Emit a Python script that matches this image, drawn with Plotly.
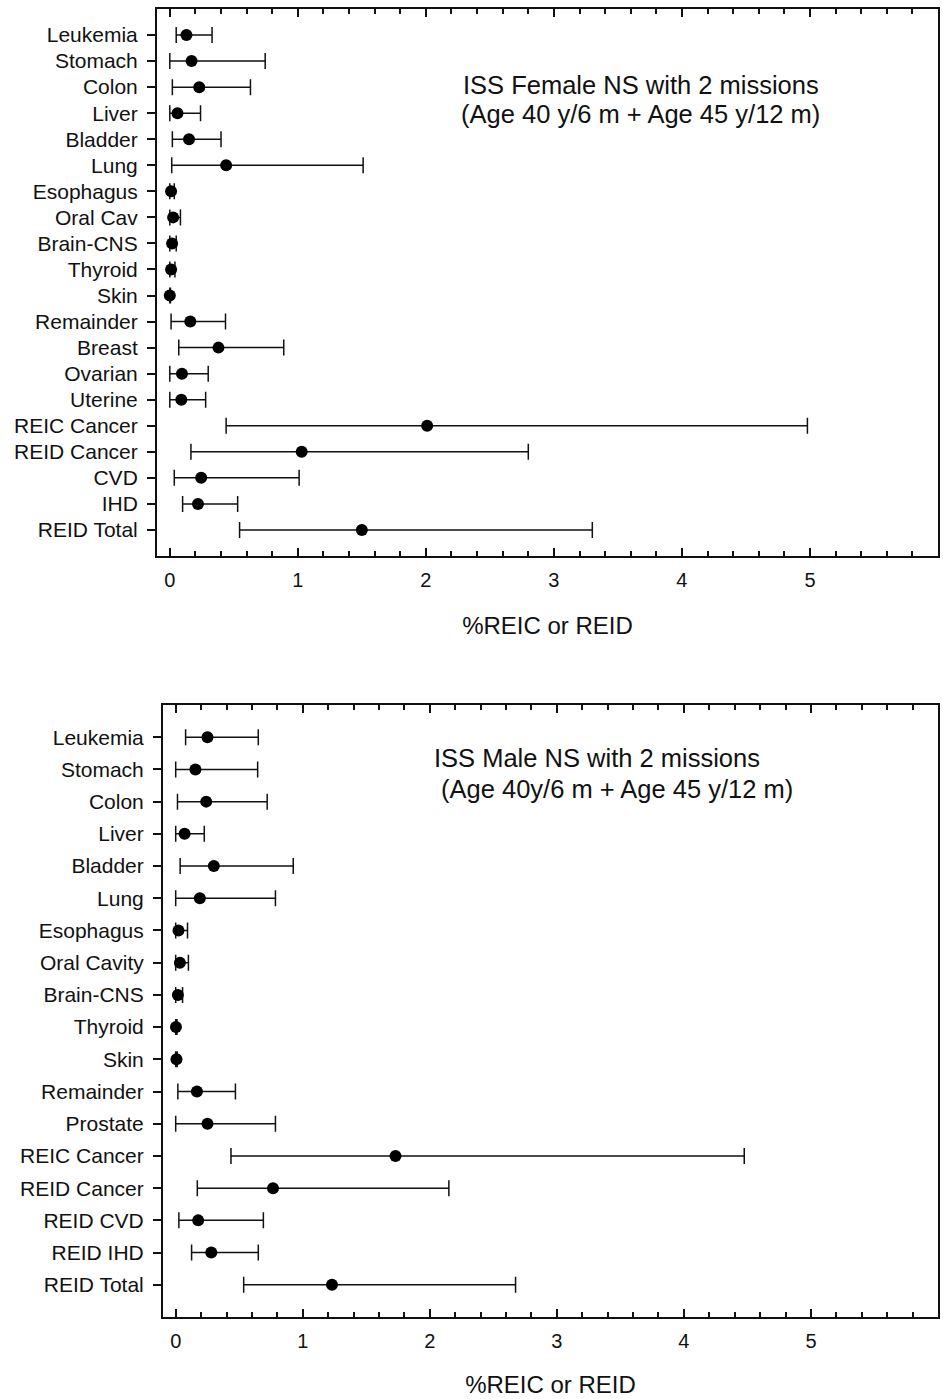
import plotly.graph_objects as go

# ---- Female NS, 2 missions ----
female_labels = ["Leukemia", "Stomach", "Colon", "Liver", "Bladder", "Lung",
                 "Esophagus", "Oral Cav", "Brain-CNS", "Thyroid", "Skin",
                 "Remainder", "Breast", "Ovarian", "Uterine", "REIC Cancer",
                 "REID Cancer", "CVD", "IHD", "REID Total"]
female_mean = [0.13, 0.17, 0.23, 0.06, 0.15, 0.44, 0.01, 0.026, 0.018, 0.01,
               0.0, 0.16, 0.38, 0.095, 0.09, 2.01, 1.03, 0.245, 0.22, 1.50]
female_low = [0.05, 0.0, 0.02, 0.0, 0.02, 0.015, 0.0, 0.0, 0.0, 0.0,
              0.0, 0.01, 0.07, 0.0, 0.0, 0.44, 0.165, 0.035, 0.10, 0.545]
female_high = [0.33, 0.745, 0.63, 0.24, 0.40, 1.51, 0.035, 0.083, 0.05, 0.04,
               0.005, 0.435, 0.89, 0.30, 0.28, 4.98, 2.80, 1.01, 0.53, 3.30]

# ---- Male NS, 2 missions ----
male_labels = ["Leukemia", "Stomach", "Colon", "Liver", "Bladder", "Lung",
               "Esophagus", "Oral Cavity", "Brain-CNS", "Thyroid", "Skin",
               "Remainder", "Prostate", "REIC Cancer", "REID Cancer",
               "REID CVD", "REID IHD", "REID Total"]
male_mean = [0.25, 0.155, 0.24, 0.07, 0.30, 0.19, 0.022, 0.033, 0.017, 0.002,
             0.006, 0.167, 0.25, 1.73, 0.766, 0.177, 0.28, 1.23]
male_low = [0.078, 0.0, 0.014, 0.0, 0.035, 0.0, 0.0, 0.0, 0.0, 0.0,
            0.0, 0.017, 0.0, 0.435, 0.17, 0.025, 0.125, 0.535]
male_high = [0.65, 0.645, 0.72, 0.225, 0.925, 0.785, 0.093, 0.10, 0.054, 0.01,
             0.012, 0.47, 0.785, 4.475, 2.15, 0.69, 0.65, 2.675]

x_title = "%REIC or REID"
female_note = ["ISS Female NS with 2 missions", "(Age 40 y/6 m + Age 45 y/12 m)"]
male_note = ["ISS Male NS with 2 missions", "(Age 40y/6 m + Age 45 y/12 m)"]

FONT = "Liberation Sans, Arial, sans-serif"
INK = "#111111"
W, H = 943, 1399


def ci_trace(labels, mean, low, high, xaxis, yaxis):
    plus = [h - m for h, m in zip(high, mean)]
    minus = [m - l for m, l in zip(mean, low)]
    return go.Scatter(
        x=mean, y=labels, mode="markers", xaxis=xaxis, yaxis=yaxis,
        marker=dict(color="black", size=12),
        error_x=dict(type="data", symmetric=False, array=plus,
                     arrayminus=minus, color=INK, thickness=1.5, width=8),
        showlegend=False, hoverinfo="x+y",
    )


fig = go.Figure()
fig.add_trace(ci_trace(female_labels, female_mean, female_low, female_high, "x", "y"))
fig.add_trace(ci_trace(male_labels, male_mean, male_low, male_high, "x2", "y2"))


def xaxis_style(domain, anchor, standoff):
    return dict(
        domain=domain, anchor=anchor, range=[-0.1, 6.0],
        tickmode="linear", tick0=0, dtick=1,
        ticks="inside", ticklen=8, tickwidth=1.5, tickcolor=INK,
        minor=dict(dtick=0.2, tick0=0, ticks="inside", ticklen=5,
                   tickwidth=1.5, tickcolor=INK, showgrid=False),
        showline=True, linewidth=2, linecolor=INK, mirror="allticks",
        showgrid=False, zeroline=False,
        ticklabelstandoff=5, ticklabeloverflow="hide past domain",
        tickfont=dict(family=FONT, size=20, color=INK),
        title=dict(text=x_title, font=dict(family=FONT, size=24, color=INK),
                   standoff=standoff),
    )


def yaxis_style(domain, anchor, labels):
    n = len(labels)
    return dict(
        domain=domain, anchor=anchor, type="category",
        categoryorder="array", categoryarray=labels,
        range=[n, -1],
        ticks="outside", ticklen=8, tickwidth=1.5, tickcolor=INK,
        showline=True, linewidth=2, linecolor=INK, mirror=True,
        showgrid=False, zeroline=False, ticklabelstandoff=5,
        tickfont=dict(family=FONT, size=21, color=INK),
    )


def note(text, left_px, mid_px):
    return dict(text=text, xref="paper", yref="paper",
                x=left_px / W, y=1 - mid_px / H,
                xanchor="left", yanchor="middle", align="left",
                showarrow=False,
                font=dict(family=FONT, size=25.5, color=INK))


fig.update_layout(
    width=W, height=H,
    margin=dict(l=0, r=0, t=0, b=0),
    paper_bgcolor="white", plot_bgcolor="white",
    font=dict(family=FONT, color=INK),
    xaxis=xaxis_style([157 / W, 938 / W], "y", 27),
    yaxis=yaxis_style([1 - 556 / H, 1 - 9 / H], "x", female_labels),
    xaxis2=xaxis_style([163 / W, 938 / W], "y2", 25),
    yaxis2=yaxis_style([1 - 1317 / H, 1 - 705 / H], "x2", male_labels),
    annotations=[
        note(female_note[0], 461, 85),
        note(female_note[1], 459, 114),
        note(male_note[0], 432, 758),
        note(male_note[1], 439, 789),
    ],
)

fig.write_html("out.html")
